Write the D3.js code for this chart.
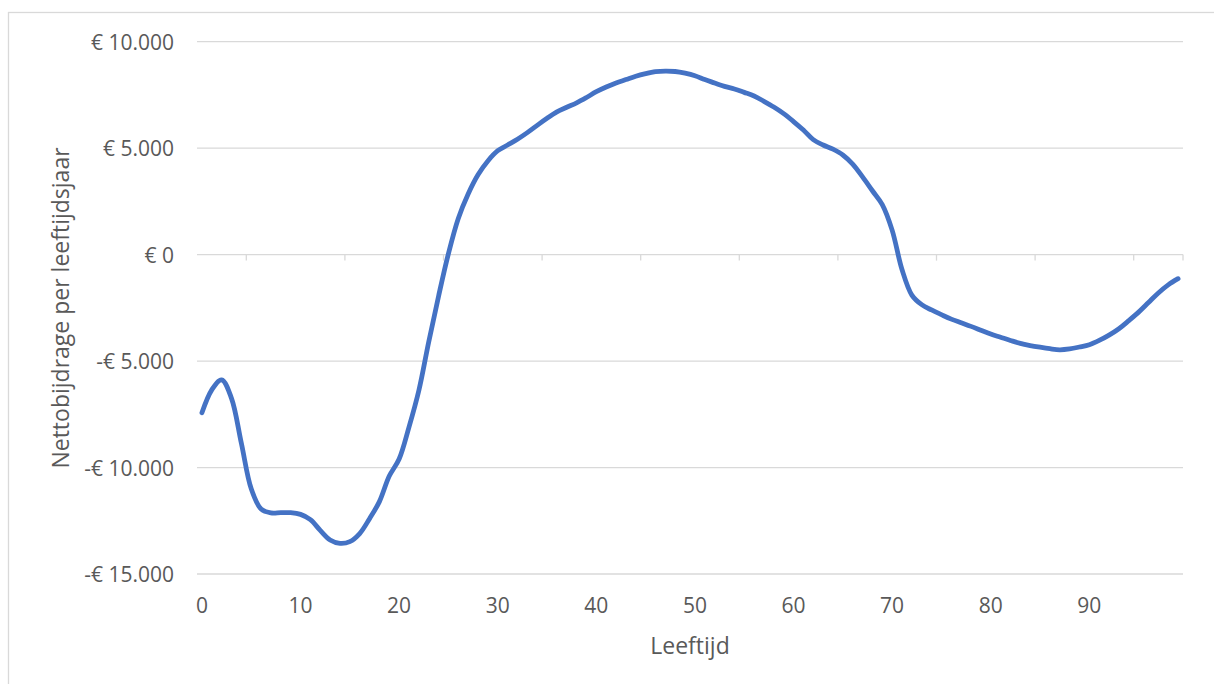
<!DOCTYPE html>
<html>
<head>
<meta charset="utf-8">
<script src="https://cdn.jsdelivr.net/npm/d3@7"></script>
<style>
  html, body { margin: 0; padding: 0; background: #fff; }
  svg { display: block; }
  text { font-family: "Open Sans", "Noto Sans", sans-serif; fill: #595959; }
</style>
</head>
<body>
<svg id="chart" width="1214" height="684"></svg>
<script>
// Net contribution per year of age (euro), ages 0..99
const ages = d3.range(0, 100);
const netContribution = [
  -7430, -6350, -5880, -6750, -8860, -11000, -11950, -12130, -12120, -12120,
  -12200, -12450, -12950, -13400, -13560, -13480, -13100, -12400, -11600, -10400,
  -9600, -8100, -6380, -4100, -1950, 50, 1700, 2850, 3750, 4400,
  4880, 5150, 5420, 5730, 6070, 6400, 6700, 6920, 7130, 7380,
  7650, 7870, 8060, 8220, 8380, 8500, 8590, 8620, 8600, 8520,
  8400, 8220, 8060, 7900, 7780, 7620, 7450, 7200, 6930, 6620,
  6250, 5850, 5400, 5150, 4950, 4680, 4250, 3650, 3000, 2350,
  1150, -700, -1900, -2350, -2600, -2820, -3030, -3200, -3370, -3550,
  -3730, -3880, -4030, -4170, -4270, -4350, -4420, -4470, -4430, -4340,
  -4230, -4030, -3780, -3480, -3100, -2700, -2250, -1800, -1420, -1130
];
const yTicks = [-15000, -10000, -5000, 0, 5000, 10000];
const xTickLabels = [0, 10, 20, 30, 40, 50, 60, 70, 80, 90];
const xTickMarks = [5, 15, 25, 35, 45, 55, 65, 75, 85, 95, 100]; // category boundaries

const svg = d3.select("#chart");

// chart area frame
svg.append("rect")
  .attr("x", 8.5).attr("y", 12.5)
  .attr("width", 1230).attr("height", 700)
  .attr("fill", "none").attr("stroke", "#d9d9d9").attr("stroke-width", 1.3);

const plotLeft = 197, plotRight = 1183, plotTop = 41.7, plotBottom = 574;

// band-style category scale: each age occupies one slot, point at the centre
const xBound = d3.scaleLinear().domain([0, ages.length]).range([plotLeft, plotRight]);
const x = a => xBound(a + 0.5);
const y = d3.scaleLinear().domain([-15000, 10000]).range([plotBottom, plotTop]);

const fmt = v => {
  const s = d3.format(",")(Math.abs(v)).replace(/,/g, ".");
  return (v < 0 ? "-€ " : "€ ") + s;
};

// horizontal gridlines
svg.append("g")
  .selectAll("line")
  .data(yTicks)
  .join("line")
  .attr("x1", plotLeft).attr("x2", plotRight)
  .attr("y1", d => y(d)).attr("y2", d => y(d))
  .attr("stroke", "#d9d9d9").attr("stroke-width", 1.3);

// y tick labels
svg.append("g")
  .selectAll("text")
  .data(yTicks)
  .join("text")
  .attr("x", 174).attr("y", d => y(d))
  .attr("text-anchor", "end").attr("dominant-baseline", "central")
  .style("font-size", "21px")
  .text(fmt);

// category tick marks on the horizontal axis (at zero)
svg.append("g")
  .selectAll("line")
  .data(xTickMarks)
  .join("line")
  .attr("x1", d => xBound(d)).attr("x2", d => xBound(d))
  .attr("y1", y(0)).attr("y2", y(0) + 6)
  .attr("stroke", "#d9d9d9").attr("stroke-width", 1.3);

// x tick labels below the plot
svg.append("g")
  .selectAll("text")
  .data(xTickLabels)
  .join("text")
  .attr("x", d => x(d)).attr("y", 605)
  .attr("text-anchor", "middle").attr("dominant-baseline", "central")
  .style("font-size", "21px")
  .text(d => d);

// axis titles
svg.append("text")
  .attr("x", 690).attr("y", 645)
  .attr("text-anchor", "middle").attr("dominant-baseline", "central")
  .style("font-size", "23px")
  .text("Leeftijd");

svg.append("text")
  .attr("transform", "translate(60,308) rotate(-90)")
  .attr("text-anchor", "middle").attr("dominant-baseline", "central")
  .style("font-size", "23px")
  .text("Nettobijdrage per leeftijdsjaar");

// smoothed series line
const line = d3.line()
  .x((d, i) => x(ages[i]))
  .y(d => y(d))
  .curve(d3.curveCatmullRom.alpha(0.5));

svg.append("path")
  .datum(netContribution)
  .attr("d", line)
  .attr("fill", "none")
  .attr("stroke", "#4472c4")
  .attr("stroke-width", 4.8)
  .attr("stroke-linecap", "round")
  .attr("stroke-linejoin", "round");
</script>
</body>
</html>
